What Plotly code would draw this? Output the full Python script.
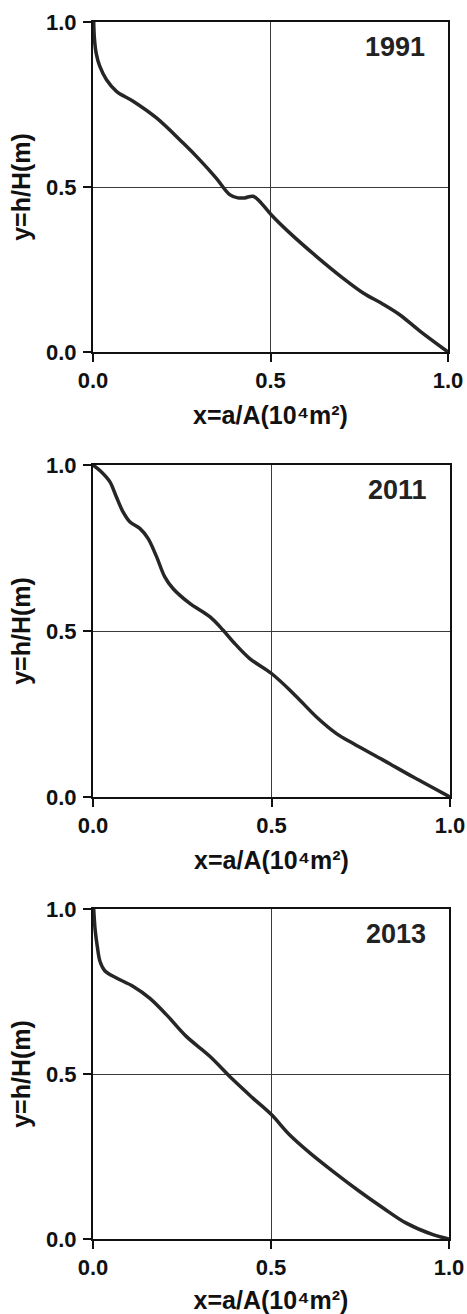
import plotly.graph_objects as go

years = ["1991", "2011", "2013"]

x_1991 = [0.002, 0.004, 0.009, 0.019, 0.038, 0.066, 0.113, 0.178, 0.254, 0.30, 0.347, 0.385, 0.408,
          0.427, 0.451, 0.469, 0.502, 0.554, 0.629, 0.704, 0.761, 0.817, 0.864, 0.92, 1.0]
y_1991 = [1.0, 0.95, 0.905, 0.866, 0.825, 0.79, 0.76, 0.71, 0.633, 0.583, 0.527, 0.477, 0.467,
          0.467, 0.472, 0.457, 0.416, 0.361, 0.29, 0.224, 0.179, 0.145, 0.113, 0.064, 0.0]

x_2011 = [0.0, 0.023, 0.047, 0.065, 0.084, 0.103, 0.131, 0.154, 0.178, 0.201, 0.224, 0.271, 0.327,
          0.364, 0.393, 0.439, 0.50, 0.561, 0.626, 0.682, 0.729, 0.813, 0.897, 1.0]
y_2011 = [1.0, 0.98, 0.95, 0.905, 0.859, 0.829, 0.809, 0.779, 0.724, 0.663, 0.628, 0.583, 0.543,
          0.503, 0.467, 0.417, 0.372, 0.312, 0.241, 0.191, 0.161, 0.111, 0.06, 0.0]

x_2013 = [0.002, 0.006, 0.012, 0.02, 0.033, 0.066, 0.112, 0.159, 0.206, 0.262, 0.328, 0.393, 0.449,
          0.501, 0.552, 0.609, 0.674, 0.749, 0.815, 0.88, 0.955, 1.0]
y_2013 = [1.0, 0.937, 0.887, 0.84, 0.813, 0.791, 0.766, 0.73, 0.68, 0.614, 0.554, 0.483, 0.427,
          0.377, 0.316, 0.261, 0.205, 0.144, 0.094, 0.048, 0.013, 0.0]

tick_vals = [0.0, 0.5, 1.0]
tick_text = ["0.0", "0.5", "1.0"]
x_title = "x=a/A(10\u2074m\u00b2)"
y_title = "y=h/H(m)"

W, H = 467, 1314
# panels in pixel coords: (left, right, top, bottom)
panels = [(93, 448, 22, 352), (93, 450, 465, 797), (93, 449, 909, 1239)]
series = [(x_1991, y_1991), (x_2011, y_2011), (x_2013, y_2013)]

FONT = "Liberation Sans"
fig = go.Figure()
layout = dict(
    width=W, height=H, margin=dict(l=0, r=0, t=0, b=0, autoexpand=False),
    paper_bgcolor="white", plot_bgcolor="white", showlegend=False,
    font=dict(family=FONT, color="#111"),
)
annotations = []
for i, ((xs, ys), (l, r, t, b), yr) in enumerate(zip(series, panels, years)):
    n = "" if i == 0 else str(i + 1)
    fig.add_trace(go.Scatter(x=xs, y=ys, mode="lines", xaxis="x" + n, yaxis="y" + n,
                             line=dict(color="#262626", width=3.5, shape="spline", smoothing=1.0),
                             hoverinfo="skip"))
    common = dict(range=[0, 1], tickvals=tick_vals, ticktext=["<b>%s</b>" % t for t in tick_text],
                  showgrid=True, gridcolor="#3a3a3a", gridwidth=1, showline=True, linecolor="#111",
                  linewidth=2, mirror=True, ticks="outside", ticklen=8, tickwidth=1.5,
                  tickcolor="#111", zeroline=False, fixedrange=True, automargin=False,
                  tickfont=dict(family=FONT, size=22, color="#111"))
    layout["xaxis" + n] = dict(common, domain=[l / W, r / W], anchor="y" + n,
                               title=dict(text="<b>%s</b>" % x_title, standoff=14,
                                          font=dict(family=FONT, size=25, color="#111")))
    layout["yaxis" + n] = dict(common, domain=[1 - b / H, 1 - t / H], anchor="x" + n,
                               ticklabelstandoff=2,
                               title=dict(text="<b>%s</b>" % y_title, standoff=8,
                                          font=dict(family=FONT, size=25, color="#111")))
    annotations.append(dict(text="<b>%s</b>" % yr, x=0.94, y=0.975, xref="x" + n + " domain",
                            yref="y" + n + " domain", xanchor="right", yanchor="top", showarrow=False,
                            font=dict(family=FONT, size=27, color="#222")))
layout["annotations"] = annotations
fig.update_layout(**layout)
fig.write_html("out.html")
